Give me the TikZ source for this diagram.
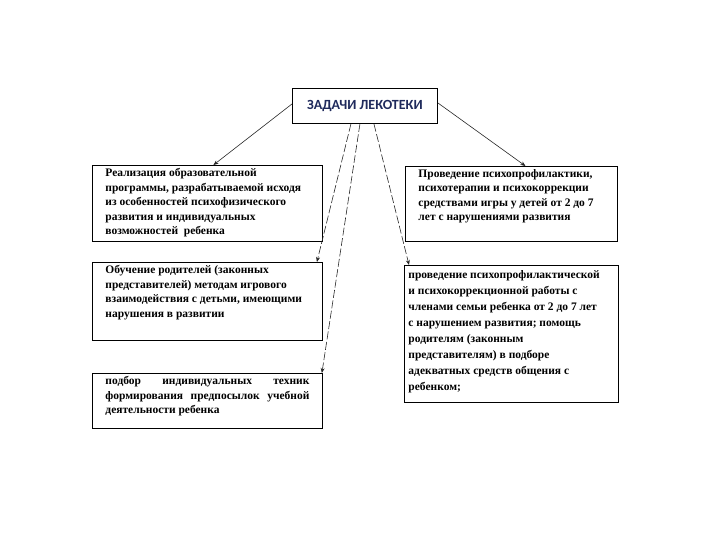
\documentclass[tikz,border=0pt]{standalone}
\usepackage{fontspec}
\setmainfont{Liberation Serif}
\newfontfamily\titlefont{Carlito}
\usepackage{xcolor}
\usetikzlibrary{arrows.meta, positioning}
\definecolor{titleblue}{HTML}{1F2A5C}
\newcommand{\boxtext}[3]{\parbox[c][#2][t]{#1}{\raggedright #3}}

\begin{document}
\begin{tikzpicture}[x=1pt, y=-1pt,
  taskbox/.style={draw, line width=0.9pt, inner xsep=13pt, inner ysep=3pt, anchor=north west,
    font=\fontsize{11.5}{14.5}\selectfont\bfseries},
  link/.style={draw=black!85, line width=0.6pt, -{Stealth[length=5pt, width=4pt]}},
  dlink/.style={link, dash pattern=on 8pt off 2.5pt}]
  \useasboundingbox (0,0) rectangle (720,540);

  % title
  \node[draw, line width=0.9pt, anchor=north west, minimum width=145pt, minimum height=35pt,
    font=\titlefont\fontsize{14}{16}\selectfont\bfseries, text=titleblue] (title) at (292,88) {ЗАДАЧИ ЛЕКОТЕКИ};

  % left column
  \node[taskbox] (realize) at (92,165) {\boxtext{204pt}{70pt}{Реализация образовательной\\
    программы, разрабатываемой исходя\\
    из особенностей психофизического\\
    развития и индивидуальных\\
    возможностей\ \ ребенка}};
  \node[taskbox] (parents) at (92,262) {\boxtext{204pt}{72pt}{Обучение родителей (законных\\
    представителей) методам игрового\\
    взаимодействия с детьми, имеющими\\
    нарушения в развитии}};
  \node[taskbox] (selection) at (92,373) {\boxtext{204pt}{49pt}{подбор\hfill индивидуальных\hfill техник\\
    формирования\hfill предпосылок\hfill учебной\\
    деятельности ребенка}};

  % right column
  \node[taskbox] (therapy) at (405,166) {\boxtext{186pt}{69pt}{Проведение психопрофилактики,\\
    психотерапии и психокоррекции\\
    средствами игры у детей от 2 до 7\\
    лет с нарушениями развития}};
  \node[taskbox, inner xsep=4pt, inner ysep=5pt, font=\fontsize{11.5}{16}\selectfont\bfseries] (family) at (404,265)
    {\boxtext{206pt}{127pt}{проведение психопрофилактической\\
    и психокоррекционной работы с\\
    членами семьи ребенка от 2 до 7 лет\\
    с нарушением развития; помощь\\
    родителям (законным\\
    представителям) в подборе\\
    адекватных средств общения с\\
    ребенком;}};

  % connectors
  \draw[link] ([yshift=2pt]title.west) -- ([xshift=6pt]realize.north);
  \draw[link] ([yshift=3pt]title.east) -- ([xshift=14pt]therapy.north);
  \draw[dlink] ([xshift=-14pt]title.south) -- ([xshift=-6pt]parents.north east);
  \draw[dlink] ([xshift=-5pt]title.south) -- ([xshift=-1pt]selection.north east);
  \draw[dlink] ([xshift=9pt]title.south) -- ([xshift=5pt]family.north west);
\end{tikzpicture}
\end{document}
